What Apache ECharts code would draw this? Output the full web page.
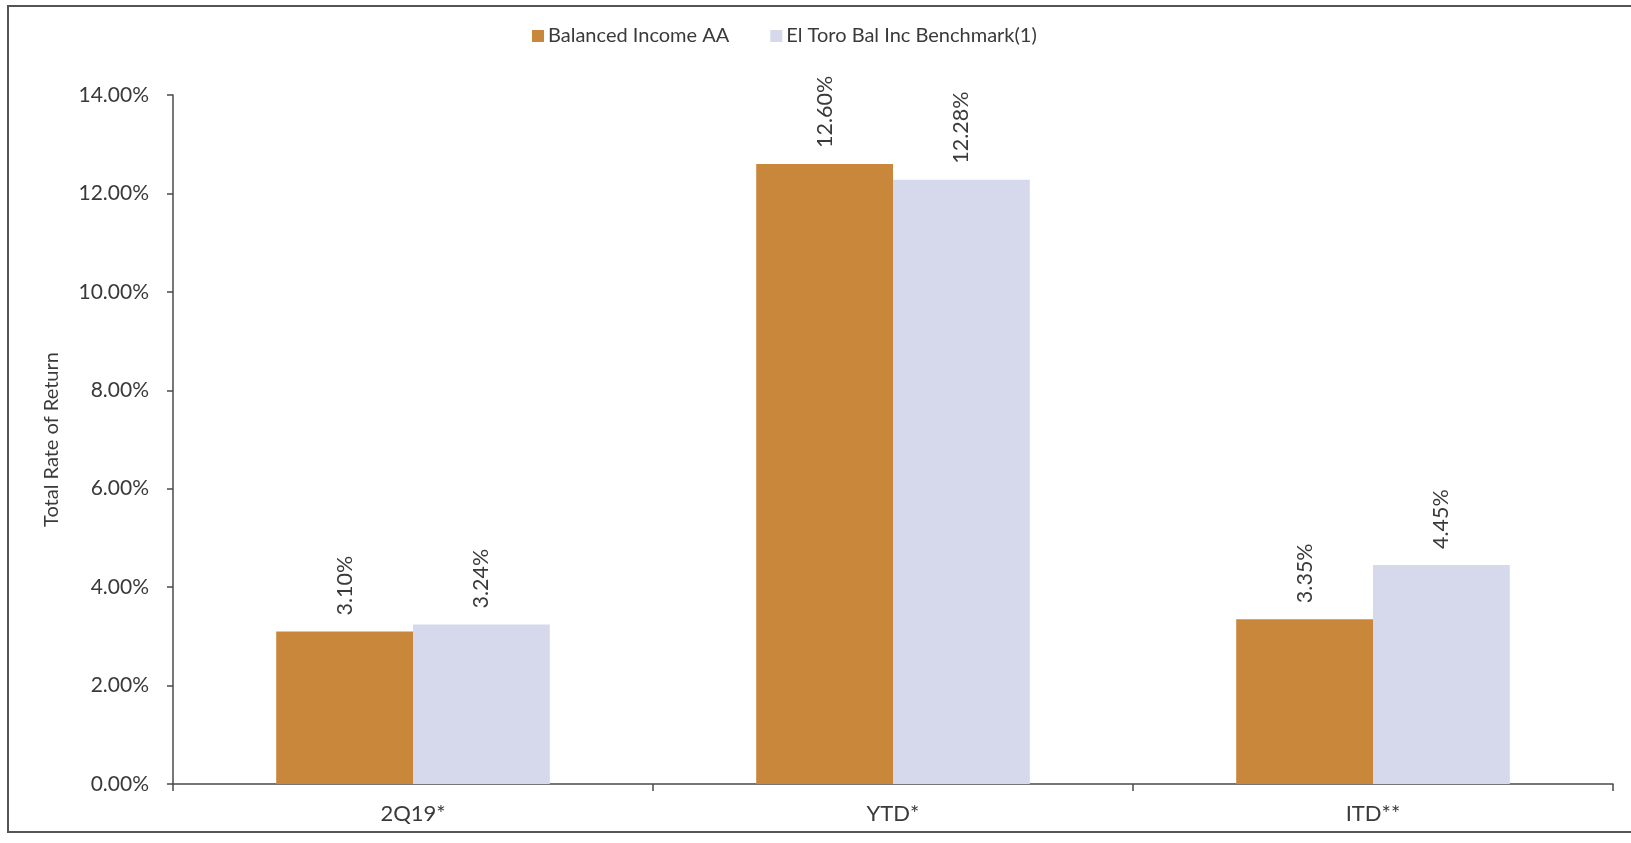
<!DOCTYPE html>
<html>
<head>
<meta charset="utf-8">
<script src="https://cdn.jsdelivr.net/npm/echarts@6/dist/echarts.min.js"></script>
<style>
html,body{margin:0;padding:0;background:#fff;}
#chart{width:1631px;height:843px;}
</style>
</head>
<body>
<div id="chart"></div>
<script>
const categories = ['2Q19*', 'YTD*', 'ITD**'];
const seriesNames = ['Balanced Income AA', 'El Toro Bal Inc Benchmark(1)'];
const balancedIncome = [3.10, 12.60, 3.35];
const benchmark = [3.24, 12.28, 4.45];
const yTicks = { min: 0, max: 14, interval: 2 };

const FONT = 'Lato';
const TXT = '#3a3a3a';
const AX = '#4a4a4a';

const chart = echarts.init(document.getElementById('chart'), null, {renderer: 'canvas'});

function labelCfg() {
  return {
    show: true,
    position: 'top',
    rotate: 90,
    align: 'left',
    verticalAlign: 'middle',
    distance: 16,
    fontFamily: FONT,
    fontSize: 21.5,
    color: TXT,
    formatter: p => p.value.toFixed(2) + '%'
  };
}

chart.setOption({
  animation: false,
  backgroundColor: '#fff',
  textStyle: { fontFamily: FONT },
  graphic: [{
    type: 'rect',
    shape: { x: 8, y: 6, width: 1650, height: 826 },
    style: { fill: 'none', stroke: '#555', lineWidth: 2 },
    silent: true,
    z: -1
  }],
  legend: {
    left: 527,
    top: 21,
    itemWidth: 12,
    itemHeight: 12,
    itemGap: 41,
    icon: 'rect',
    textStyle: { fontFamily: FONT, fontSize: 20, color: TXT, padding: [0, 0, 0, -1] },
    data: seriesNames
  },
  grid: { left: 173, right: 18, top: 95, bottom: 59, containLabel: false },
  xAxis: {
    type: 'category',
    data: categories,
    axisLine: { show: true, lineStyle: { color: AX, width: 1.5 } },
    axisTick: { show: true, alignWithLabel: false, length: 7, lineStyle: { color: AX, width: 1.5 } },
    axisLabel: { fontFamily: FONT, fontSize: 22, color: TXT, margin: 19 },
    splitLine: { show: false }
  },
  yAxis: {
    type: 'value',
    min: yTicks.min,
    max: yTicks.max,
    interval: yTicks.interval,
    name: 'Total Rate of Return',
    nameLocation: 'middle',
    nameGap: 111,
    nameTextStyle: { fontFamily: FONT, fontSize: 20, color: TXT },
    axisLine: { show: true, lineStyle: { color: AX, width: 1.5 } },
    axisTick: { show: true, length: 6, lineStyle: { color: AX, width: 1.5 } },
    axisLabel: { fontFamily: FONT, fontSize: 21, color: TXT, margin: 24, formatter: v => v.toFixed(2) + '%' },
    splitLine: { show: false }
  },
  series: [
    {
      name: seriesNames[0],
      type: 'bar',
      data: balancedIncome,
      barGap: '0%',
      barCategoryGap: '43%',
      itemStyle: { color: '#C8873B' },
      label: labelCfg()
    },
    {
      name: seriesNames[1],
      type: 'bar',
      data: benchmark,
      barGap: '0%',
      barCategoryGap: '43%',
      itemStyle: { color: '#D6D8EB' },
      label: labelCfg()
    }
  ]
});
</script>
</body>
</html>
